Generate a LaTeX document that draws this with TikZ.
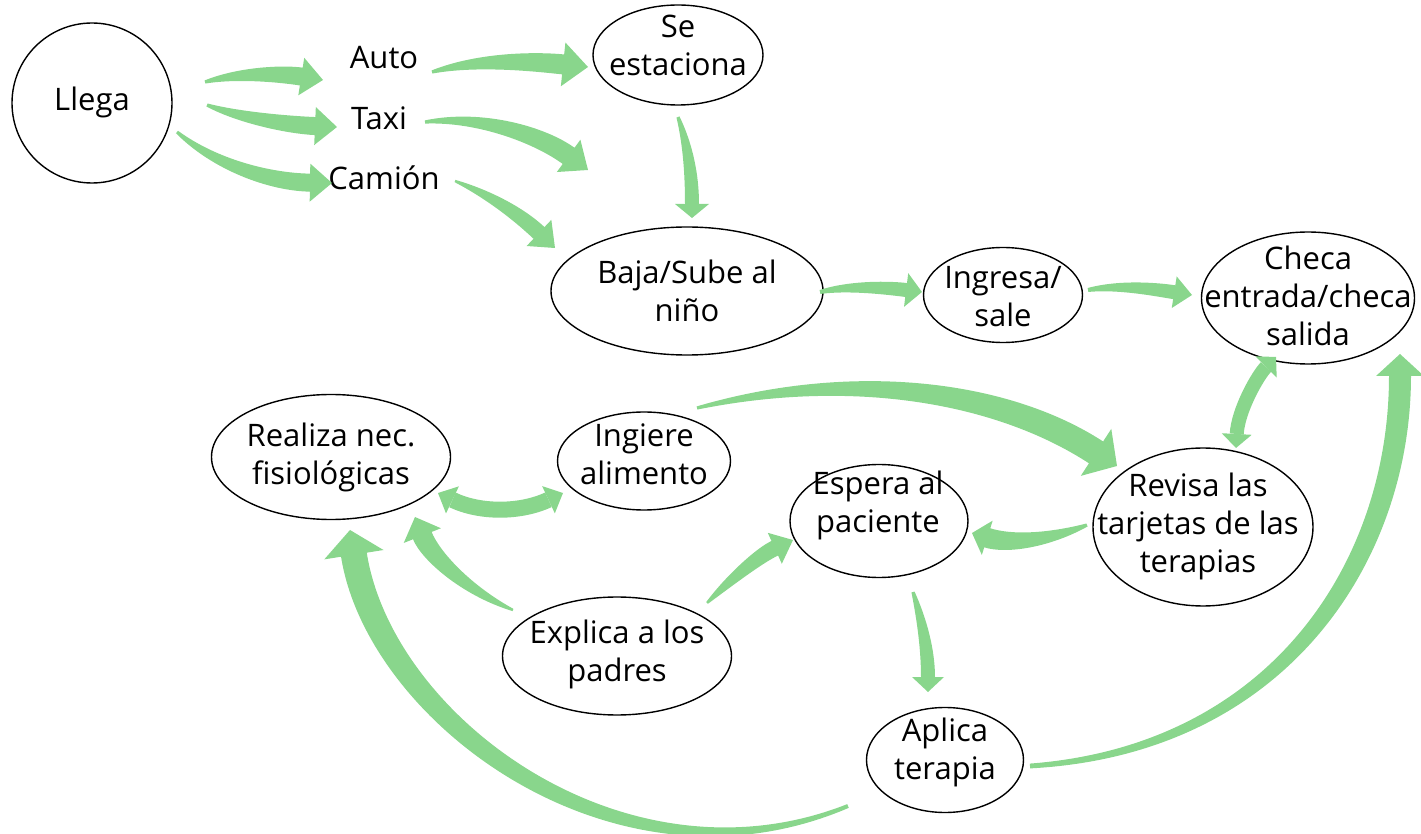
\documentclass[tikz,border=0pt]{standalone}
\usepackage{fontspec}
\setmainfont{Open Sans}
\usetikzlibrary{calc,shapes.geometric}
\definecolor{ag}{RGB}{137,214,140}
\tikzset{
  ell/.style={draw=black, line width=0.7pt, ellipse, inner sep=0pt},
  txt/.style={align=center, font=\fontsize{15.5pt}{19pt}\selectfont, inner sep=0pt},
  arrfill/.style={fill=ag},
  shaft/.style={draw=ag, line cap=butt}
}
% tapered arrow: tail, c1, c2, tip, half tail, half mid, half shaft, half head, head length
\newcommand\tarr[9]{%
  \coordinate (T0) at #1; \coordinate (C1) at #2; \coordinate (C2) at #3; \coordinate (TP) at #4;
  \coordinate (BS) at ($(TP)!#9!(C2)$);
  \coordinate (BL) at ($(BS)!#7!90:(C2)$);
  \coordinate (BR) at ($(BS)!#7!-90:(C2)$);
  \coordinate (HL) at ($(BS)!#8!90:(C2)$);
  \coordinate (HR) at ($(BS)!#8!-90:(C2)$);
  \coordinate (CL) at ($(C2)+(BL)-(BS)$);
  \coordinate (CR) at ($(C2)+(BR)-(BS)$);
  \coordinate (TL) at ($(T0)!#5!-90:(C1)$);
  \coordinate (TR) at ($(T0)!#5!90:(C1)$);
  \coordinate (ML) at ($(C1)!#6!-90:(C2)$);
  \coordinate (MR) at ($(C1)!#6!90:(C2)$);
  \fill[arrfill] (TL) .. controls (ML) and (CL) .. (BL) -- (HL) -- (TP) -- (HR) -- (BR) .. controls (CR) and (MR) .. (TR) -- cycle;
}
% double arrow: tipA, c1, c2, tipB, shaft width, half head, head length
\newcommand\darr[7]{%
  \coordinate (TA) at #1; \coordinate (C1) at #2; \coordinate (C2) at #3; \coordinate (TB) at #4;
  \coordinate (BA) at ($(TA)!#7!(C1)$);
  \coordinate (BB) at ($(TB)!#7!(C2)$);
  \draw[shaft, line width=#5] (BA) .. controls (C1) and (C2) .. (BB);
  \fill[arrfill] ($(BA)!#6!90:(C1)$) -- (TA) -- ($(BA)!#6!-90:(C1)$) -- cycle;
  \fill[arrfill] ($(BB)!#6!90:(C2)$) -- (TB) -- ($(BB)!#6!-90:(C2)$) -- cycle;
}
\begin{document}
\begin{tikzpicture}[x=0.5pt, y=-0.5pt]
\useasboundingbox (0,0) rectangle (1421,834);

% nodes
\node[draw=black, line width=0.7pt, circle, minimum size=80pt, inner sep=0pt] (llega) at (92,103) {};
\node[txt] at (92,102) {Llega};
\node[txt] (auto) at (384,58) {Auto};
\node[txt] (taxi) at (379,118) {Taxi};
\node[txt] (camion) at (384,178) {Camión};

\node[ell, minimum width=85pt, minimum height=50pt] (seest) at (678,55) {};
\node[txt] at (678,45) {Se\\estaciona};
\node[ell, minimum width=136pt, minimum height=64pt] (baja) at (687,291) {};
\node[txt] at (687,291) {Baja/Sube al\\niño};
\node[ell, minimum width=79.5pt, minimum height=47.5pt] (ingresa) at (1003,295) {};
\node[txt] at (1003,297) {Ingresa/\\sale};
\node[ell, minimum width=106.5pt, minimum height=66pt] (checa) at (1308,298) {};
\node[txt] at (1308,296) {Checa\\entrada/checa\\salida};
\node[ell, minimum width=119.5pt, minimum height=62.5pt] (realiza) at (331,457) {};
\node[txt] at (331,457) {Realiza nec.\\fisiológicas};
\node[ell, minimum width=86.5pt, minimum height=49pt] (ingiere) at (644,461) {};
\node[txt] at (644,454) {Ingiere\\alimento};
\node[ell, minimum width=89pt, minimum height=56.5pt] (espera) at (879,521) {};
\node[txt] at (878,505) {Espera al\\paciente};
\node[ell, minimum width=110pt, minimum height=79pt] (revisa) at (1203,527) {};
\node[txt] at (1198,526) {Revisa las\\tarjetas de las\\terapias};
\node[ell, minimum width=114.5pt, minimum height=59pt] (explica) at (617,656) {};
\node[txt] at (617,654) {Explica a los\\padres};
\node[ell, minimum width=78.5pt, minimum height=52.5pt] (aplica) at (945,760) {};
\node[txt] at (945,752) {Aplica\\terapia};

% connectors
\tarr{($(llega)+(113,-21)$)}{(240,72)}{(285,74)}{($(auto)+(-61,22)$)}{0.8pt}{3pt}{4.5pt}{9.5pt}{11pt}
\tarr{($(llega)+(115,2)$)}{(240,118)}{(290,125)}{($(taxi)+(-42,9)$)}{0.8pt}{3pt}{4.5pt}{9.5pt}{11pt}
\tarr{($(llega)+(85,29)$)}{(215,165)}{(270,182)}{($(camion)+(-52,5)$)}{0.8pt}{3pt}{4.5pt}{9.5pt}{11pt}
\tarr{($(auto)+(48,14)$)}{(480,58)}{(540,62)}{($(seest)+(-90,12)$)}{0.8pt}{3.5pt}{5pt}{11pt}{12.5pt}
\tarr{($(taxi)+(46,4)$)}{(480,115)}{(540,135)}{($(baja)+(-99,-121)$)}{0.8pt}{3.5pt}{5pt}{10pt}{12pt}
\tarr{($(camion)+(71,3)$)}{(490,195)}{(520,215)}{($(baja)+(-132,-43)$)}{0.6pt}{2.5pt}{4pt}{9pt}{11pt}
\tarr{($(seest)+(0,62)$)}{(688,145)}{(692,175)}{($(baja)+(5,-73)$)}{0.8pt}{2.5pt}{3.5pt}{8.5pt}{7pt}
\tarr{($(baja)+(133,1)$)}{(850,285)}{(890,288)}{($(ingresa)+(-81,-3)$)}{1pt}{2.5pt}{3.5pt}{8.5pt}{8pt}
\tarr{($(ingresa)+(85,-5)$)}{(1120,284)}{(1160,290)}{($(checa)+(-116,-3)$)}{1pt}{2.5pt}{3.5pt}{8pt}{9pt}
\darr{($(checa)+(-32,59)$)}{(1258,375)}{(1238,410)}{($(revisa)+(33,-79)$)}{7pt}{7.5pt}{7pt}
\tarr{($(ingiere)+(53,-53)$)}{(850,370)}{(1000,390)}{($(revisa)+(-86,-61)$)}{0.8pt}{4.5pt}{6.5pt}{14pt}{12.5pt}
\darr{($(realiza)+(107,36)$)}{(480,513)}{(520,513)}{($(ingiere)+(-81,32)$)}{8pt}{7.5pt}{8pt}
\tarr{($(explica)+(-104,-46)$)}{(465,590)}{(430,555)}{($(realiza)+(84,60)$)}{0.6pt}{3.5pt}{5pt}{10pt}{10pt}
\tarr{($(explica)+(90,-53)$)}{(730,580)}{(760,555)}{($(espera)+(-86,19)$)}{0.6pt}{3pt}{4pt}{8.5pt}{10pt}
\tarr{($(revisa)+(-116,-2)$)}{(1050,540)}{(1010,545)}{($(espera)+(93,12)$)}{0.8pt}{3.5pt}{5pt}{9pt}{8pt}
\tarr{($(espera)+(34,71)$)}{(922,620)}{(928,650)}{($(aplica)+(-17,-68)$)}{0.8pt}{2.5pt}{3.5pt}{8pt}{7.5pt}
\tarr{($(aplica)+(85,6)$)}{(1280,750)}{(1400,560)}{($(checa)+(92,56)$)}{1.2pt}{4.5pt}{5.5pt}{12pt}{11pt}
\tarr{($(aplica)+(-97,46)$)}{(620,900)}{(380,720)}{($(realiza)+(19,73)$)}{1pt}{5.5pt}{6.5pt}{15pt}{12.5pt}
\end{tikzpicture}
\end{document}
